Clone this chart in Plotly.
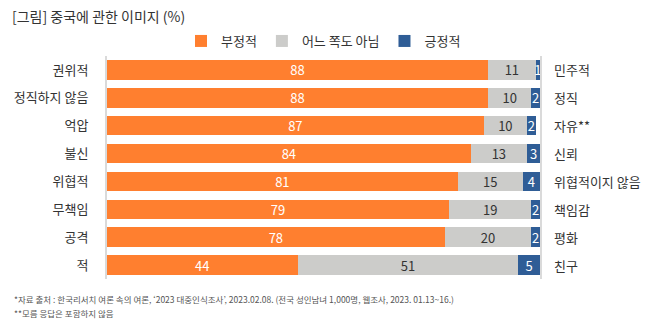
import plotly.graph_objects as go

categories = ["권위적", "정직하지 않음", "억압", "불신", "위협적", "무책임", "공격", "적"]
opposites = ["민주적", "정직", "자유**", "신뢰", "위협적이지 않음", "책임감", "평화", "친구"]
negative = [88, 88, 87, 84, 81, 79, 78, 44]
neutral = [11, 10, 10, 13, 15, 19, 20, 51]
positive = [1, 2, 2, 3, 4, 2, 2, 5]

series_names = ["부정적", "어느 쪽도 아님", "긍정적"]
colors = ["#FF7F2F", "#CCCCCA", "#2F5D96"]
text_colors = ["#FFFFFF", "#333333", "#FFFFFF"]

footnotes = [
    "*자료 출처 : 한국리서치 여론 속의 여론, ‘2023 대중인식조사’, 2023.02.08. (전국 성인남녀 1,000명, 웹조사, 2023. 01.13~16.)",
    "**모름 응답은 포함하지 않음",
]

FONT = "Noto Sans CJK KR"
W, H = 656, 329
ML, MR, MT, MB = 107, 116, 56, 50
PW = W - ML - MR

fig = go.Figure()
for name, vals, col, tcol in zip(series_names, [negative, neutral, positive], colors, text_colors):
    fig.add_trace(go.Bar(
        y=categories, x=vals, name=name, orientation="h",
        marker=dict(color=col, line=dict(width=0)),
        text=vals, texttemplate="%{text}", textposition="inside",
        insidetextanchor="middle", textangle=0,
        textfont=dict(color=tcol, size=13, family=FONT),
        width=0.7, hoverinfo="skip",
    ))

for cat, opp in zip(categories, opposites):
    fig.add_annotation(x=1, xref="paper", xanchor="left", xshift=12,
                       y=cat, yref="y", text=opp, showarrow=False,
                       font=dict(size=13, color="#333333", family=FONT))

for i, note in enumerate(footnotes):
    fig.add_annotation(
        x=(12 - ML) / PW, xref="paper", xanchor="left",
        y=0, yref="paper", yshift=-20 - 14 * i, yanchor="middle",
        align="left", showarrow=False, text=note,
        font=dict(size=8.5, color="#555555", family=FONT),
    )

fig.update_layout(
    width=W, height=H,
    barmode="stack", bargap=0.3,
    margin=dict(l=ML, r=MR, t=MT, b=MB),
    paper_bgcolor="white", plot_bgcolor="white",
    font=dict(family=FONT, color="#333333", size=13),
    uniformtext=dict(minsize=13, mode="show"),
    title=dict(text="[그림] 중국에 관한 이미지 (%)", x=12/W, xanchor="left",
               y=1 - 17/H, yanchor="middle", xref="container", yref="container",
               font=dict(size=14, color="#333333", family=FONT)),
    legend=dict(orientation="h", x=0.5, xanchor="center", y=1.0, yanchor="bottom",
                yref="paper", font=dict(size=13, family=FONT, color="#333333"),
                itemwidth=30, traceorder="normal", bgcolor="rgba(0,0,0,0)"),
    xaxis=dict(range=[0, 100], showgrid=False, showticklabels=False, zeroline=False,
               showline=False, fixedrange=True),
    yaxis=dict(autorange="reversed", showgrid=False, showline=True, mirror=True,
               linecolor="#DADADA", linewidth=2, ticks="", ticklabelstandoff=14,
               tickfont=dict(size=13, color="#333333", family=FONT)),
)

fig.write_html("out.html")
